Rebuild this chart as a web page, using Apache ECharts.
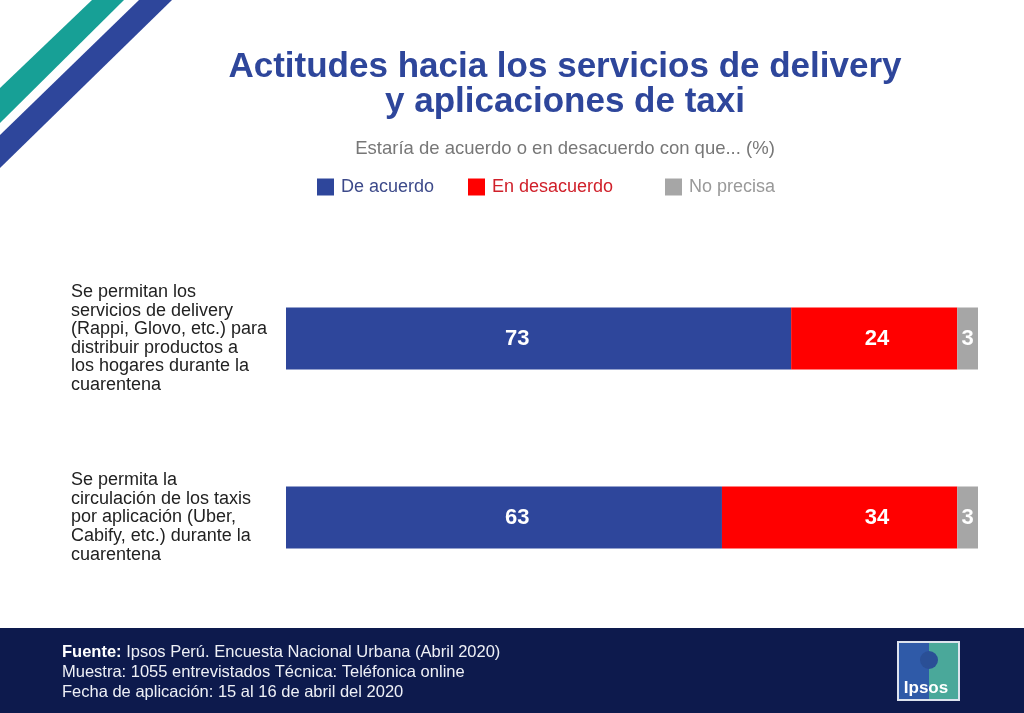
<!DOCTYPE html>
<html>
<head>
<meta charset="utf-8">
<title>Actitudes hacia los servicios de delivery y aplicaciones de taxi</title>
<script src="https://cdn.jsdelivr.net/npm/echarts@6/dist/echarts.min.js"></script>
<style>
  html, body { margin: 0; padding: 0; background: #fff; }
  #chart { width: 1024px; height: 713px; }
</style>
</head>
<body>
<div id="chart"></div>
<script>
// datos (%)
var categories = [
  'Se permitan los\nservicios de delivery\n(Rappi, Glovo, etc.) para\ndistribuir productos a\nlos hogares durante la\ncuarentena',
  'Se permita la\ncirculación de los taxis\npor aplicación (Uber,\nCabify, etc.) durante la\ncuarentena'
];
var seriesNames = ['De acuerdo', 'En desacuerdo', 'No precisa'];
var deAcuerdo = [73, 63];
var enDesacuerdo = [24, 34];
var noPrecisa = [3, 3];

var blue = '#2e469b';
var red = '#ff0000';
var gray = '#a6a6a6';
var font = '"Liberation Sans", Arial, Helvetica, sans-serif';

var chart = echarts.init(document.getElementById('chart'), null, { renderer: 'canvas' });

// en el original las cifras quedan alineadas en columna, no centradas en cada tramo
function barSeries(name, data, color, labelPos, labelDist) {
  return {
    name: name,
    type: 'bar',
    stack: 'total',
    data: data,
    barWidth: 62,
    itemStyle: { color: color },
    label: {
      show: true,
      position: labelPos,
      distance: labelDist,
      color: '#fff',
      fontFamily: font,
      fontWeight: 'bold',
      fontSize: 22
    },
    emphasis: { disabled: true }
  };
}

// una leyenda por serie para reproducir los espacios del original
function legendItem(name, left, textColor) {
  return {
    left: left,
    top: 173,
    icon: 'rect',
    itemWidth: 17,
    itemHeight: 17,
    itemGap: 0,
    selectedMode: false,
    textStyle: { fontFamily: font, fontSize: 18, color: textColor, padding: [0, 0, 0, 2] },
    data: [name]
  };
}

chart.setOption({
  animation: false,
  backgroundColor: '#fff',
  textStyle: { fontFamily: font },
  title: [{
    text: 'Actitudes hacia los servicios de delivery\ny aplicaciones de taxi',
    left: 560,
    textAlign: 'center',
    top: 45,
    textStyle: {
      color: blue,
      fontFamily: font,
      fontWeight: 'bold',
      fontSize: 35,
      lineHeight: 35
    }
  }, {
    text: 'Estaría de acuerdo o en desacuerdo con que... (%)',
    left: 560,
    textAlign: 'center',
    top: 134,
    textStyle: {
      color: '#777',
      fontFamily: font,
      fontWeight: 'normal',
      fontSize: 18.5
    }
  }],
  legend: [
    legendItem(seriesNames[0], 312, '#3d4a8a'),
    legendItem(seriesNames[1], 463, '#d0202a'),
    legendItem(seriesNames[2], 660, '#999')
  ],
  grid: {
    left: 286,
    right: 46,
    top: 249,
    height: 358,
    containLabel: false
  },
  xAxis: {
    type: 'value',
    min: 0,
    max: 100,
    show: false
  },
  yAxis: {
    type: 'category',
    inverse: true,
    data: categories,
    axisLine: { show: false },
    axisTick: { show: false },
    splitLine: { show: false },
    axisLabel: {
      align: 'left',
      margin: 215,
      color: '#222',
      fontFamily: font,
      fontSize: 18,
      lineHeight: 18.6
    }
  },
  series: [
    barSeries(seriesNames[0], deAcuerdo, blue, 'insideLeft', 219),
    barSeries(seriesNames[1], enDesacuerdo, red, 'insideRight', 68),
    barSeries(seriesNames[2], noPrecisa, gray, 'inside', 0)
  ],
  graphic: [
    // franjas decorativas de la esquina
    { type: 'polygon', shape: { points: [[92, 0], [124, 0], [0, 123], [0, 88]] }, style: { fill: '#17a096' } },
    { type: 'polygon', shape: { points: [[139, 0], [172, 0], [0, 168], [0, 135]] }, style: { fill: blue } },
    // pie de página
    { type: 'rect', shape: { x: 0, y: 628, width: 1024, height: 85 }, style: { fill: '#0d1a4d' } },
    {
      type: 'text',
      left: 62,
      top: 642,
      style: {
        text: '{b|Fuente:} Ipsos Perú. Encuesta Nacional Urbana (Abril 2020)\nMuestra: 1055 entrevistados Técnica: Teléfonica online\nFecha de aplicación: 15 al 16 de abril del 2020',
        fill: '#eef0f6',
        font: '16.5px ' + font,
        lineHeight: 20,
        rich: {
          b: { fontWeight: 'bold', fontSize: 16.5, fontFamily: font, fill: '#fff', lineHeight: 20 }
        }
      }
    },
    // logo Ipsos
    { type: 'rect', shape: { x: 897, y: 641, width: 63, height: 60 }, style: { fill: '#dde3ee' } },
    { type: 'rect', shape: { x: 899, y: 643, width: 30, height: 56 }, style: { fill: '#2f5aa8' } },
    { type: 'rect', shape: { x: 929, y: 643, width: 29, height: 56 }, style: { fill: '#4aa89a' } },
    { type: 'circle', shape: { cx: 929, cy: 660, r: 9 }, style: { fill: '#2a4f96' } },
    {
      type: 'text',
      x: 926,
      y: 688,
      style: {
        text: 'Ipsos',
        fill: '#fff',
        font: 'bold 17px ' + font,
        align: 'center',
        verticalAlign: 'middle'
      }
    }
  ]
});

window.addEventListener('resize', function() { chart.resize(); });
</script>
</body>
</html>
